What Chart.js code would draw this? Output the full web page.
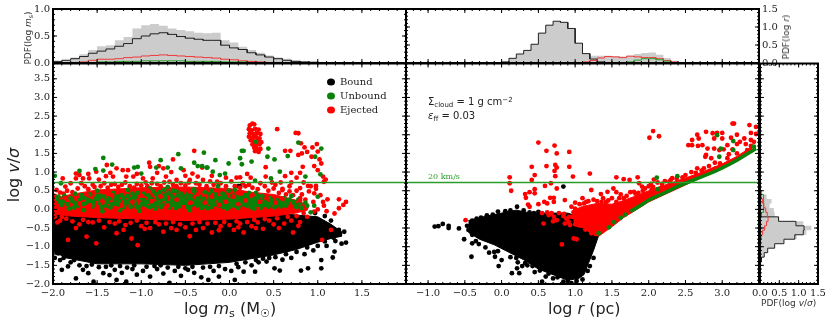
<!DOCTYPE html>
<html>
<head>
<meta charset="utf-8">
<script src="https://cdn.jsdelivr.net/npm/chart.js@4/dist/chart.umd.min.js"></script>
<style>
  html, body { margin: 0; padding: 0; background: #fff; }
  #page { position: relative; width: 830px; height: 323px; overflow: hidden; }
  canvas { position: absolute; }
  .txt { position: absolute; white-space: nowrap; color: #222; font-family: "DejaVu Sans", sans-serif; }
  .big { font-size: 16px; }
  .small { font-size: 9px; color: #333; }
  .rot { transform: translate(-50%, -50%) rotate(-90deg); }
  sub { font-size: 70%; vertical-align: baseline; position: relative; top: .25em; }
  sup { font-size: 70%; vertical-align: baseline; position: relative; top: -.45em; }
</style>
</head>
<body>
<div id="page">
  <canvas id="histMass" width="412" height="72" style="left:0;top:0"></canvas>
  <canvas id="histRadius" width="392" height="72" style="left:400px;top:0"></canvas>
  <canvas id="mainMass" width="412" height="250" style="left:0;top:50px"></canvas>
  <canvas id="mainRadius" width="365" height="250" style="left:400px;top:50px"></canvas>
  <canvas id="histVel" width="81" height="250" style="left:749px;top:50px"></canvas>

  <div class="txt big rot" style="left:13px;top:175px">log <i>v</i>/<i>σ</i></div>
  <div class="txt big" style="left:184px;top:299px">log <i>m</i><sub>s</sub> (M<sub>☉</sub>)</div>
  <div class="txt big" style="left:548px;top:299px">log <i>r</i> (pc)</div>
  <div class="txt small rot" style="left:28px;top:38px">PDF(log <i>m</i><sub>s</sub>)</div>
  <div class="txt small rot" style="left:786px;top:37px">PDF(log <i>r</i>)</div>
  <div class="txt small" style="left:761px;top:298px">PDF(log <i>v</i>/<i>σ</i>)</div>
  <div class="txt" style="left:428px;top:96px;font-size:10px">Σ<sub>cloud</sub> = 1 g cm<sup>−2</sup></div>
  <div class="txt" style="left:428px;top:110px;font-size:10px"><i>ε</i><sub>ff</sub> = 0.03</div>
  <div class="txt" style="left:428px;top:172px;font-size:8px;color:#2a9d2a;font-family:'DejaVu Serif',serif">20 km/s</div>
</div>

<script>
// ─── Histogrammes du haut (bins de 0.1) ─────
const massEdges = [-2.0,-1.9,-1.8,-1.7,-1.6,-1.5,-1.4,-1.3,-1.2,-1.1,-1.0,-0.9,-0.8,-0.7,-0.6,-0.5,-0.4,-0.3,-0.2,-0.1,0.0,0.1,0.2,0.3,0.4,0.5,0.6,0.7,0.8,0.9,1.0,1.1,1.2,1.3];
const massAll     = [.03,.06,.10,.16,.24,.31,.33,.42,.48,.64,.70,.72,.69,.64,.61,.59,.56,.55,.56,.42,.38,.30,.24,.19,.14,.10,.08,.05,.03,.02,.01,.01,.005,0];
const massBound   = [.03,.05,.08,.12,.18,.22,.26,.31,.36,.45,.50,.54,.56,.53,.49,.46,.44,.42,.42,.33,.28,.25,.19,.15,.11,.08,.05,.03,.02,.015,.01,.01,.005,0];
const massEjected = [0,0,.01,.02,.05,.07,.07,.08,.10,.11,.13,.14,.15,.14,.13,.12,.11,.10,.09,.07,.06,.04,.03,.02,.01,.01,.01,.01,.005,0,0,0,0,0];
const massUnbound = [0,.005,.005,.01,.01,.02,.02,.03,.03,.03,.04,.04,.04,.04,.04,.03,.03,.03,.03,.02,.02,.02,.01,.01,.005,.005,0,0,0,0,0,0,0,0];

const radiusEdges = [-0.2,-0.1,0.0,0.1,0.2,0.3,0.4,0.5,0.6,0.7,0.8,0.9,1.0,1.1,1.2,1.3,1.4,1.5,1.6,1.7,1.8,1.9,2.0,2.1,2.2,2.3,2.4];
const radiusAll     = [.005,.01,.03,.13,.25,.35,.52,.83,1.05,1.16,1.13,.96,.55,.27,.20,.20,.20,.19,.18,.20,.25,.28,.29,.23,.14,.06,.02];
const radiusBound   = [.005,.01,.03,.13,.25,.35,.52,.83,1.05,1.16,1.13,.96,.55,.26,.11,.03,.01,0,0,0,0,0,0,0,0,0,0];
const radiusEjected = [0,0,0,0,0,0,0,0,0,0,0,0,.01,.03,.07,.14,.18,.17,.15,.19,.17,.15,.15,.12,.07,.03,.01];
const radiusUnbound = [0,0,0,0,0,0,0,0,0,0,0,0,0,0,0,0,0,0,.01,.03,.08,.12,.12,.09,.05,.01,0];

// ─── Histogramme de droite (bins de 0.12) ───
const velEdges = [-1.52,-1.40,-1.28,-1.16,-1.04,-0.92,-0.80,-0.68,-0.56,-0.44,-0.32,-0.20,-0.08,0.04,0.16,0.28,0.40];
const velAll     = [.02,.05,.12,.20,.38,.62,.95,1.20,1.33,1.12,.50,.38,.36,.25,.30,.17,.06];
const velBound   = [.01,.04,.11,.20,.38,.62,.90,1.12,1.14,.93,.48,0,0,0,0,0,0];
const velEjected = [0,0,0,0,0,.01,.03,.07,.12,.17,.21,.19,.15,.10,.07,.03,0];
const velUnbound = [0,0,0,0,0,0,0,0,0,0,.01,.04,.08,.10,.10,.09,.03];

// ─── Panneau gauche : log m_s / log v/sigma ─
const speedLine = [0.72, 0.72];
const legendNames = ['Bound', 'Unbound', 'Ejected'];

const massBoundCloud = [[-2,-.15],[-1.5,-.1],[-1,-.1],[-.5,-.1],[0,-.1],[.5,-.1],[.75,-.15],[1,-.2],[1.15,-.4],[1.27,-.6],[1.27,-.72],[1.15,-.78],[1,-.88],[.75,-1.08],[.5,-1.22],[.25,-1.32],[0,-1.42],[-.5,-1.5],[-1,-1.46],[-1.5,-1.46],[-1.85,-1.3],[-2,-1.12]];
const massEjectedCloud = [[-2,.28],[-1.8,.4],[-1.5,.52],[-1,.58],[-.5,.6],[0,.56],[.25,.46],[.5,.4],[.75,.25],[.9,.1],[.88,-.02],[.75,-.1],[.5,-.18],[.25,-.22],[0,-.26],[-.5,-.3],[-1,-.26],[-1.5,-.22],[-1.8,-.18],[-2,-.12]];

const massBoundPts = [[-1.94,-1.18],[-1.92,-1.36],[-1.9,-1.62],[-1.83,-1.53],[-1.74,-1.85],[-1.66,-1.62],[-1.54,-1.94],[-1.6,-1.71],[-1.43,-1.71],[-1.36,-1.76],[-1.28,-1.89],[-1.17,-1.94],[-1.3,-1.62],[-1.22,-1.7],[-1.1,-1.6],[-1.05,-1.75],[-.98,-1.65],[-.9,-1.8],[-.82,-1.6],[-.75,-1.72],[-.68,-1.97],[-.62,-1.65],[-.55,-1.78],[-.47,-1.62],[-.4,-1.7],[-.32,-1.82],[-.24,-1.89],[-.18,-1.65],[-.12,-1.8],[-.05,-1.6],[.06,-1.89],[.02,-1.65],[.1,-1.55],[.16,-1.67],[.29,-1.67],[.25,-1.5],[.33,-1.42],[.42,-1.4],[.51,-1.58],[.57,-1.64],[.6,-1.35],[.7,-1.3],[.81,-1.64],[.89,-1.58],[.85,-1.2],[.95,-1.1],[1.04,-1.36],[1.04,-1.58],[1.17,-1.29],[1.19,-1.13],[1.1,-.98],[1.2,-.85],[1.32,-.89],[1.27,-.92],[1.3,-.6],[1.24,-.55],[1.15,-.3],[1.08,-.18],[.97,-.1],[.1,.62],[.12,.62],[-1.98,-1.3],[-1.7,-1.5],[-1.48,-1.55],[-.85,-1.52],[-.3,-1.56],[.45,-1.3],
[-1.96,-1.16],[-1.88,-1.3],[-1.8,-1.42],[-1.76,-1.36],[-1.62,-1.52],[-1.56,-1.48],[-1.4,-1.54],[-1.34,-1.5],[-1.24,-1.52],[-1.16,-1.56],[-1.08,-1.5],[-.94,-1.54],[-.78,-1.5],[-.7,-1.56],[-.58,-1.54],[-.5,-1.58],[-.42,-1.54],[-.22,-1.54],[-.12,-1.52],[.08,-1.46],[.18,-1.42],[.3,-1.36],[.38,-1.32],[.52,-1.28],[.64,-1.2],[.76,-1.14],[.88,-1.02],[1,-.98],[1.08,-.86],[1.18,-.76]];

const massUnboundPts = [[-1.43,1.38],[-1.98,.9],[-1.7,1.03],[-1.52,1.08],[-1.33,1.2],[-1.43,1.04],[-1.08,1.12],[-1.04,1.14],[-.78,1.32],[-.58,1.48],[-.7,1.12],[-.4,1.25],[-.36,1.16],[-.26,1.12],[-.55,1.1],[-.83,1.12],[-1,.96],[-1.91,.7],[-1.94,.34],[-.29,1.52],[-.16,1.32],[-.01,1.23],[.12,1.37],[.25,1.28],[.14,1.21],[.14,1.57],[.16,1.57],[.3,1.81],[.44,1.63],[.43,1.41],[.51,1.34],[.66,1.43],[.78,1.79],[.97,1.41],[1.04,1.63],[.57,1.01],[.47,.83],[1.03,.94],[.86,.88],[-.19,1.01],[-.25,1.12],[-.31,1.16],[-.05,.96],[-.11,.92],[.29,.77],
[-1.95,.28],[-1.9,.12],[-1.87,.36],[-1.82,.02],[-1.78,.22],[-1.75,.42],[-1.72,.1],[-1.68,.3],[-1.65,-.02],[-1.62,.18],[-1.58,.4],[-1.55,.08],[-1.52,.28],[-1.5,.5],[-1.47,.14],[-1.44,-.05],[-1.42,.34],[-1.38,.2],[-1.35,.05],[-1.32,.44],[-1.3,.26],[-1.27,.12],[-1.24,-.02],[-1.22,.38],[-1.18,.2],[-1.15,.52],[-1.12,.07],[-1.1,.3],[-1.07,.16],[-1.04,.44],[-1.02,-.04],[-.98,.26],[-.95,.1],[-.92,.38],[-.9,.56],[-.87,.18],[-.84,.02],[-.82,.3],[-.79,.46],[-.76,.12],[-.73,.28],[-.7,.6],[-.68,.05],[-.65,.36],[-.62,.2],[-.6,.48],[-.57,.08],[-.54,.3],[-.5,.14],[-.48,.42],[-.45,-.02],[-.42,.24],[-.4,.54],[-.37,.1],[-.34,.34],[-.31,.18],[-.28,.46],[-.25,.03],[-.22,.28],[-.2,.14],[-.16,.4],[-.13,.62],[-.1,.2],[-.07,.06],[-.04,.32],[-.01,.5],[.02,.14],[.05,.26],[.08,.4],[.1,.04],[.13,.2],[.16,.32],[.19,.1],[.22,.44],[.25,.18],[.28,.02],[.31,.28],[.34,.12],[.37,.36],[.4,.2],[.43,.06],[.46,.3],[.5,.16],[.54,.24],[.58,.08],[.62,.3],[.66,.18],[.7,.36],[.74,.12],[.78,.26],[.82,.04],[.86,.18],[.92,-.08],[.96,.1],[1.0,.34],[-1.76,.05],[-1.6,.25],[-1.4,.1],[-1.2,.3],[-1,.15],[-.8,.22],[-.6,.1],[-.44,.36],[-.3,.08],[-.18,.24],[-.02,.12],[.12,.3],[.27,.22],[.44,.14],[-.9,.06],[-.66,.24],[.2,.26],[-.55,.42],[-1.28,.34],[-.06,.4],
[-1.92,.2],[-1.84,.14],[-1.8,.3],[-1.7,.24],[-1.66,.14],[-1.57,.22],[-1.48,.26],[-1.45,.06],[-1.36,.3],[-1.33,.14],[-1.25,.22],[-1.2,.06],[-1.16,.36],[-1.13,.18],[-1.08,.24],[-1.05,.06],[-1,.3],[-.97,.42],[-.93,.2],[-.89,.28],[-.85,.12],[-.83,.4],[-.78,.06],[-.75,.36],[-.71,.18],[-.69,.44],[-.63,.3],[-.61,.04],[-.58,.2],[-.55,.14],[-.52,.24],[-.47,.06],[-.46,.3],[-.41,.14],[-.38,.44],[-.35,.22],[-.32,.04],[-.29,.28],[-.26,.16],[-.23,.4],[-.21,.06],[-.17,.14],[-.14,.3],[-.11,.1],[-.08,.42],[-.05,.2],[-.03,.02],[0,.24],[.03,.36],[.06,.1],[.09,.2],[.12,.12],[.15,.22],[.18,.38],[.21,.16],[.24,.06],[.27,.32],[.3,.12],[.33,.24],[.36,.04],[.39,.3],[.42,.14],[.47,.18],[.51,.06],[.55,.14],[.6,.2],[.64,.1],[.68,.26],[.72,.2],[.76,.06],[.8,.16],[.88,.1],[-1.1,.42],[-.86,.48],[-.64,.5],[-.42,.5],[-.2,.5],[.06,.52],[.3,.44],[-1.5,.36],[-1.68,.38],[-.74,.52],
[-1.88,.22],[-1.74,.16],[-1.64,.32],[-1.54,.18],[-1.46,.36],[-1.4,.24],[-1.3,.16],[-1.26,.34],[-1.19,.12],[-1.14,.26],[-1.06,.34],[-1.01,.08],[-.96,.18],[-.91,.3],[-.88,.1],[-.81,.16],[-.77,.26],[-.72,.38],[-.67,.14],[-.63,.12],[-.59,.36],[-.56,.26],[-.51,.34],[-.49,.22],[-.43,.08],[-.39,.2],[-.36,.3],[-.33,.12],[-.27,.08],[-.24,.22],[-.19,.32],[-.15,.06],[-.12,.2],[-.09,.3],[-.06,.14],[-.03,.26],[.01,.08],[.04,.18],[.07,.32],[.11,.24],[.14,.08],[.17,.16],[.2,.34],[.23,.24],[.26,.12],[.29,.2],[.32,.36],[.35,.18],[.38,.1],[.41,.26],[.45,.1],[.48,.24],[.53,.12],[.57,.2],[.61,.12],[.65,.24]];

const massEjectedPts = [[-.4,1.57],[-.64,1.34],[-.91,1.25],[-.8,1.16],[-1.39,1.19],[-1.28,1.1],[-1.74,.96],[-1.89,.83],[-1.7,.92],[-1.59,.83],[-1.51,1.01],[-1.21,1.05],[-1.15,1.05],[-.9,1.14],[-.52,1.05],[-.31,1.12],[-.75,1.1],[-1.17,.88],[-1.09,.88],[-.98,.83],[-.87,.83],[-.72,.88],[-.42,.96],[-.45,.79],[-.6,.79],[-.3,.79],[-1.32,.88],[-1.4,.89],[-1.48,.8],[-1.66,.83],[-1.74,.83],[-1.8,.7],[-1.86,.61],[-1.96,.52],[-1.92,.45],[-1.68,.7],[-1.55,.66],[-1.42,.7],[-1.3,.68],[-1.18,.72],[-1.05,.68],[-.95,.72],[-.82,.68],[-.68,.74],[-.55,.7],[-.38,.7],[-.22,.75],[-.1,.7],[.02,.75],[.08,.85],[.15,.7],[.22,.66],[.35,.7],[.4,.62],[.52,.66],[.6,.55],[.68,.62],[.76,.5],[.82,.4],[.92,.62],[.98,.55],
[.23,2.25],[.26,2.3],[.28,2.28],[.22,2.15],[.25,2.12],[.29,2.16],[.33,2.14],[.23,2.04],[.27,2.02],[.31,2.05],[.35,2.02],[.22,1.95],[.26,1.92],[.3,1.94],[.34,1.9],[.24,1.85],[.28,1.82],[.32,1.84],[.36,1.8],[.26,1.74],[.3,1.72],[.34,1.74],[.28,1.65],[.31,1.62],[.35,1.62],[.29,1.56],[.33,1.54],
[.54,2.15],[.75,2.05],[.78,2.04],[.99,1.75],[.94,1.66],[.81,1.77],[.85,1.66],[.88,1.54],[.69,1.57],[.63,1.57],[.78,1.46],[.82,1.5],[1.0,1.55],[.93,1.41],[1.02,1.34],[1.04,1.23],[.96,1.16],[1.0,1.05],[.83,1.14],[.8,.98],[.41,1.13],[.7,.98],[.63,.89],[.41,.88],[1.06,.88],[1.09,.8],[1.07,.74],[.98,.63],[.89,.63],[.8,.57],[.6,.52],[.68,.48],[.96,.43],[1.11,.27],[1.24,.27],[1.32,.2],[1.29,.12],[1.24,.03],[1.19,-.11],[1.06,.2],[1.03,.38],[1.07,.1],[1,.0],[1.1,-.05],[.95,.2],
[-1.83,-.82],[-1.51,-.91],[-1.62,-.73],[-1.28,-.64],[-1.11,-.78],[-1.04,-.96],[-.9,-.5],[-.75,-.6],[-.6,-.55],[-.45,-.72],[-.3,-.5],[-.2,-.62],[-.1,-.45],[.05,-.55],[.16,-.62],[.25,-.45],[.38,-.52],[.5,-.4],[.62,-.38],[.7,-.3],[.8,-.34],[.88,-.2],[1.05,-.82],[-1.7,-.4],[-1.42,-.48],[-1.18,-.42],[-1,-.45],[-.8,-.4],[-.5,-.48],[-.25,-.38],[0,-.42],[.12,-.38],[.32,-.35],[.45,-.3],[-1.95,-.35],[-1.9,-.2],[-1.55,-.35],[-1.3,-.38],[.72,-.62],[1.15,-.55],
[-1.98,.36],[-1.93,.3],[-1.88,.42],[-1.84,.5],[-1.78,.46],[-1.72,.56],[-1.64,.62],[-1.6,.54],[-1.53,.6],[-1.46,.62],[-1.38,.58],[-1.34,.66],[-1.26,.6],[-1.22,.66],[-1.13,.62],[-1.08,.58],[-1,.64],[-.93,.62],[-.88,.7],[-.78,.62],[-.74,.72],[-.64,.66],[-.6,.62],[-.5,.64],[-.46,.72],[-.34,.66],[-.26,.62],[-.18,.66],[-.14,.74],[-.04,.62],[.06,.62],[.12,.58],[.18,.62],[.26,.58],[.32,.54],[.44,.5],[.5,.56],[.56,.44],[.64,.4],[.72,.38],[.8,.3],[.86,.26],[-1.6,.95],[-1.35,.98],[-1.05,.95],[-.82,.98],[-.66,1.0],[-.5,.9],[-.36,.88],[-.2,.9],[-.04,.85],[.12,.86],[.24,.85],[.2,.95],[.48,.72],[.58,.72],[.7,.72],[.84,.72],[.9,.48],[.76,.85],
[-1.98,-.2],[-1.92,-.3],[-1.85,-.25],[-1.78,-.32],[-1.66,-.28],[-1.6,-.34],[-1.48,-.3],[-1.36,-.34],[-1.25,-.32],[-1.12,-.36],[-1.05,-.3],[-.94,-.36],[-.84,-.34],[-.72,-.38],[-.64,-.34],[-.56,-.4],[-.42,-.38],[-.34,-.34],[-.16,-.36],[-.06,-.34],[.08,-.32],[.2,-.34],[.28,-.28],[.4,-.26],[.54,-.24],[.66,-.2],[.76,-.18],[.84,-.1],[.96,-.06],[-1.74,-.5],[-1.2,-.55],[-.96,-.52],[-.66,-.5],[-.38,-.55],[-.12,-.56],[.1,-.48],[.3,-.5],[.56,-.5],[.78,-.44]];

// points rouges posés par-dessus le vert
const massEjectedTop = [[-1.86,.3],[-1.7,.16],[-1.58,.1],[-1.44,.22],[-1.34,.38],[-1.22,.1],[-1.1,.2],[-1,.36],[-.88,.22],[-.78,.34],[-.7,.1],[-.6,.26],[-.52,.06],[-.44,.18],[-.36,.4],[-.28,.18],[-.2,.34],[-.12,.12],[-.04,.2],[.04,.34],[.1,.14],[.18,.24],[.26,.38],[.34,.2],[.42,.3],[.52,.18],[.6,.28],[.7,.06],[.8,.24],[-1.5,.06],[-1.28,.02],[-.98,.02],[-.72,.02],[-.4,.02],[-.16,.02],[.15,.02],[.4,.0],[-1.62,.4],[-.92,.5],[-.46,.48],[.1,.44]];

// ─── Panneau central : log r / log v/sigma ──
const radiusBoundCloud = [[-.45,-.3],[-.25,-.2],[0,-.1],[.2,-.02],[.4,-.1],[.6,-.1],[.9,-.1],[1.05,-.2],[1.32,-.7],[1.25,-1.1],[1.18,-1.45],[1.12,-1.75],[1.05,-1.85],[.9,-1.9],[.7,-1.75],[.5,-1.6],[.3,-1.35],[.1,-1.15],[-.1,-.95],[-.3,-.8],[-.45,-.62]];
const radiusEjectedCloud = [[.95,-.05],[1.1,.08],[1.3,.16],[1.5,.14],[1.6,.2],[1.8,.34],[2,.5],[2.2,.64],[2.44,.8],[2.7,.98],[3,1.22],[3.2,1.42],[3.4,1.68],[3.4,1.54],[3.2,1.3],[3,1.09],[2.7,.84],[2.44,.6],[2,.2],[1.66,-.22],[1.53,-.42],[1.32,-.72],[1.2,-.62],[1.12,-.5],[1.02,-.46],[.98,-.3]];
const radiusRidge = [[1.75,-.06],[1.8,0],[1.9,.12],[2,.25],[2.1,.34],[2.2,.43],[2.3,.52],[2.4,.62],[2.5,.7],[2.6,.78],[2.7,.86],[2.8,.94],[2.9,1.02],[3,1.11],[3.1,1.21],[3.2,1.32],[3.3,1.44],[3.4,1.56],[3.46,1.63]];

const radiusBoundPts = [[-.91,-.46],[-.86,-.45],[-.8,-.39],[-.72,-.44],[-.72,-.5],[-.58,-.51],[-.51,-.8],[-.41,-1.27],[-.4,-.91],[-.31,-.93],[-.17,-1.16],[-.1,-1.14],[-.09,-1.27],[-.04,-1.52],[0,-1.36],[.14,-1.71],[.21,-1.58],[.28,-1.52],[.24,-1.71],[.55,-1.94],[.7,-1.85],[.84,-1.94],[.21,.07],[.84,.61],[-.47,-.44],[-.45,-.55],[-.4,-.68],[-.35,-.85],[-.22,-1.02],[-.05,-1.12],[.12,-1.28],[.22,-1.42],[.35,-1.5],[.45,-1.68],[.6,-1.8],[.95,-1.98],[1.1,-1.88],[1.17,-1.65],[1.2,-1.52],[1.25,-1.3],[-.2,-.16],[-.05,-.06],[.12,-.03],[.3,-.03],[.5,-.07],[-.4,-.3],[-.34,-.25],[-.28,-.22],[-.12,-.14],[.05,-.05],[.38,-.08],[.44,-.1],[.2,-1.3],[.32,-1.44],[.42,-1.52],[.52,-1.64],[.64,-1.72],[.76,-1.82],[.9,-1.92],[1.02,-1.92]];
const radiusUnboundPts = [[2.11,.85],[2.39,.89],[2.12,.54],[2.93,1.99],[3.15,1.83],[2.98,1.63],[2.96,1.41],[3.15,1.59],[1.32,-.64],[1.46,-.48],[3.43,1.68],[1.53,-.34],[1.62,-.22],[1.68,-.14]];
const radiusEjectedPts = [[.5,1.79],[.72,1.71],[.61,1.57],[.75,1.5],[.92,1.54],[.41,1.14],[.61,1.16],[.73,1.19],[.75,1.12],[.72,1.03],[.92,1.14],[.11,.86],[.45,.92],[.73,.89],[.97,.88],[.41,.79],[.11,.7],[.13,.5],[.45,.54],[.59,.63],[.67,.7],[.75,.56],[.38,.46],[.32,.41],[.45,.43],[.33,.31],[.36,.13],[.38,.07],[.5,.14],[.58,.2],[.66,.31],[.71,.31],[.62,.16],[.71,.2],[.86,.25],[.95,.07],[-.49,-.29],
[.57,-.38],[.64,-.15],[.71,-.2],[.75,-.29],[.86,-.38],[.91,-.33],[.93,-.42],[.82,-.94],[.98,-.78],[1.02,-.8],[.55,-.1],[.62,-.08],[.68,-.1],[.78,-.1],[.85,-.12],[.92,-.2],[.7,-.32],
[2.06,2.1],[2.01,1.92],[2.14,1.96],[1.2,.96],[1.22,.52],[1.56,.86],[1.66,.81],[1.74,.79],[1.85,.86],[2.07,.8],[1.87,.7],[1.52,.56],[1.44,.47],[1.35,.41],[1.56,.46],[1.8,.47],[1.91,.61],[2.03,.68],[2.04,.52],[2.16,.56],[2.3,.79],[2.66,1.1],[2.82,1.16],[2.91,1.1],[2.77,1.41],[2.85,1.37],[3.07,1.37],[3.2,1.5],[3.34,1.59],[2.97,1.23],
[2.54,1.72],[2.59,1.72],[2.59,1.86],[2.66,2.0],[2.68,1.9],[2.67,1.7],[2.78,2.08],[2.87,2.04],[2.93,2.05],[3,2.05],[2.89,1.9],[3,1.9],[3.12,1.92],[3.2,2],[3.14,2.3],[3.16,2.3],[3.37,2.26],[3.46,2.21],[3.39,2.05],[3.46,2.02],[3.39,1.86],[3.3,1.9],[3.24,1.81],[3.32,1.75],[3.39,1.7],[3.43,1.81],[3.2,1.75],[3.14,1.61],[3.07,1.72],[3.02,1.61],[3.09,1.48],[2.96,1.59],[2.89,1.63],[2.8,1.63],[2.73,1.72],[2.78,1.46],
[1.1,.3],[1.0,.18],[1.15,.2],[1.25,.26],[1.3,.22],[1.38,.3],[1.45,.24],[1.5,.3],[1.6,.3],[1.62,.4],[1.7,.36],[1.75,.46],[1.82,.42],[1.95,.56],[2.0,.62],[2.12,.72],[2.22,.76],[2.32,.84],[2.5,.92],[2.58,1],[2.75,1.1],[2.9,1.25],
[.98,-.08],[.96,-.2],[1,-.4],[1.06,-.42],[1.14,-.54],[1.22,-.64],[1.28,-.66],[.88,-.25],[.84,-.18],[1.0,.02],[1.06,.14],[1.12,.16],[1.18,.22],[1.36,.2],[1.42,.2],[1.56,.2],[1.66,.3],[1.86,.44],[1.92,.5],[2.06,.6],[2.18,.68],[2.28,.74],[2.38,.82],[2.46,.86],[2.64,.98],[2.72,1.04]];

// ─── Graduations du cadre, vers l'intérieur ─
const framePlugin = {
  id: 'frame',
  afterDatasetsDraw(chart) {
    const { ctx, chartArea: a, scales } = chart;
    const marks = (scale, step, len) => {
      const n0 = Math.ceil(scale.min / step - 1e-6);
      const n1 = Math.floor(scale.max / step + 1e-6);
      for (let n = n0; n <= n1; n++) {
        const p = scale.getPixelForValue(n * step);
        ctx.beginPath();
        if (scale.axis === 'x') {
          ctx.moveTo(p, a.bottom); ctx.lineTo(p, a.bottom - len);
          ctx.moveTo(p, a.top); ctx.lineTo(p, a.top + len);
        } else {
          ctx.moveTo(a.left, p); ctx.lineTo(a.left + len, p);
          ctx.moveTo(a.right, p); ctx.lineTo(a.right - len, p);
        }
        ctx.stroke();
      }
    };
    ctx.save();
    ctx.strokeStyle = '#000';
    ctx.lineWidth = 1;
    marks(scales.x, .5, 4);
    marks(scales.x, .1, 2);
    marks(scales.y, .5, 4);
    marks(scales.y, .1, 2);
    ctx.lineWidth = 2;
    ctx.strokeRect(a.left, a.top, a.right - a.left, a.bottom - a.top);
    ctx.restore();
  }
};

// Légende placée dans le panneau
const legendSpot = {
  id: 'legendSpot',
  afterLayout(chart) {
    const spot = chart.options.plugins.legendSpot;
    const l = chart.legend;
    if (!l || !spot || !spot.left) return;
    l.left = spot.left;
    l.right = l.left + l.width;
    l.top = spot.top;
    l.bottom = l.top + l.height;
  }
};
Chart.register(framePlugin, legendSpot);

// ─── Helpers ────────────────────────────────
const tickFont = { family: "'DejaVu Serif', serif", size: 10 };
const fmt = hide => v => hide.includes(v) ? '' : v.toFixed(1).replace('-', '−');

function toPoints(list) { return list.map(p => ({ x: p[0], y: p[1] })); }

// bins -> contour en marches
function stepShape(edges, vals, horizontal) {
  const w = edges[1] - edges[0];
  const pts = [];
  const add = (e, v) => pts.push(horizontal ? { x: v, y: e } : { x: e, y: v });
  add(edges[0], 0);
  edges.forEach((e, i) => { add(e, vals[i]); add(e + w, vals[i]); });
  add(edges[edges.length - 1] + w, 0);
  return pts;
}

function dots(label, list, color, order) {
  return { label, data: toPoints(list), backgroundColor: color, borderWidth: 0, pointRadius: 2.4, pointHoverRadius: 2.4, order };
}
function cloud(list, color, order) {
  return { data: toPoints(list), showLine: true, fill: 'shape', backgroundColor: color, borderColor: color, borderWidth: 1, pointRadius: 0, order };
}
function step(edges, vals, color, horizontal, filled, order) {
  return { data: stepShape(edges, vals, horizontal), showLine: true, fill: filled ? 'shape' : false, backgroundColor: color, borderColor: color, borderWidth: filled ? 0 : 1, pointRadius: 0, tension: 0, order };
}
function axis(min, max, hide, side, size, extra) {
  return Object.assign({
    type: 'linear', min, max, position: side,
    grid: { display: false, drawTicks: false }, border: { display: false },
    ticks: { stepSize: 0.5, includeBounds: false, autoSkip: false, maxRotation: 0, font: tickFont, color: '#222', padding: 3, callback: fmt(hide) },
    afterFit: s => { if (s.isHorizontal()) s.height = size; else s.width = size; }
  }, extra || {});
}
function makeChart(id, datasets, scales, padding, extra) {
  return new Chart(document.getElementById(id), {
    type: 'scatter',
    data: { datasets },
    options: {
      responsive: false, animation: false, events: [],
      layout: { padding },
      scales,
      plugins: Object.assign({ legend: { display: false }, tooltip: { enabled: false } }, extra || {})
    }
  });
}

// ─── Histogrammes ───────────────────────────
const GREY = '#cccccc', RED = '#f03a3a', GREEN = '#2a9d2a';

makeChart('histMass', [
  step(massEdges, massAll, GREY, false, true, 4),
  step(massEdges, massBound, '#222', false, false, 3),
  step(massEdges, massEjected, RED, false, false, 2),
  step(massEdges, massUnbound, GREEN, false, false, 1)
], {
  x: axis(-2, 2, [], 'bottom', 0, { display: false }),
  y: axis(0, 1, [], 'left', 53)
}, { top: 8, right: 6, bottom: 8.5, left: 0 });

makeChart('histRadius', [
  step(radiusEdges, radiusAll, GREY, false, true, 4),
  step(radiusEdges, radiusBound, '#222', false, false, 3),
  step(radiusEdges, radiusEjected, RED, false, false, 2),
  step(radiusEdges, radiusUnbound, GREEN, false, false, 1)
], {
  x: axis(-1.3, 3.5, [], 'bottom', 0, { display: false }),
  y: axis(0, 1.5, [], 'right', 33)
}, { top: 8, right: 0, bottom: 8.5, left: 6 });

makeChart('histVel', [
  step(velEdges, velAll, GREY, true, true, 4),
  step(velEdges, velBound, '#222', true, false, 3),
  step(velEdges, velEjected, RED, true, false, 2),
  step(velEdges, velUnbound, GREEN, true, false, 1)
], {
  x: axis(0, 1.5, [], 'bottom', 16),
  y: axis(-2, 3.91, [], 'left', 0, { display: false })
}, { top: 13.5, right: 12, bottom: 0, left: 10 });

// ─── Nuages de points ───────────────────────
const lineMass = { data: [{ x: -2, y: speedLine[0] }, { x: 2, y: speedLine[1] }], showLine: true, borderColor: GREEN, backgroundColor: GREEN, borderWidth: 1.3, pointRadius: 0, order: 1 };
const lineRadius = { data: [{ x: -1.3, y: speedLine[0] }, { x: 3.5, y: speedLine[1] }], showLine: true, borderColor: GREEN, backgroundColor: GREEN, borderWidth: 1.3, pointRadius: 0, order: 1 };

makeChart('mainMass', [
  dots(legendNames[0], massBoundPts, '#000', 8),
  cloud(massBoundCloud, '#000', 9),
  dots(legendNames[1], massUnboundPts, '#0a820a', 3),
  dots(legendNames[2], massEjectedPts, '#ff0000', 6),
  cloud(massEjectedCloud, '#ff0000', 7),
  dots('', massEjectedTop, '#ff0000', 2),
  lineMass
], {
  x: axis(-2, 2, [2], 'bottom', 16),
  y: axis(-2, 3.91, [], 'left', 53)
}, { top: 13.5, right: 6, bottom: 0, left: 0 }, {
  legend: {
    display: true, position: 'chartArea', align: 'start',
    labels: {
      usePointStyle: true, boxHeight: 5, pointStyleWidth: 8, padding: 4, color: '#222',
      font: { family: "'DejaVu Serif', serif", size: 10 },
      filter: item => !!item.text,
      sort: (a, b) => legendNames.indexOf(a.text) - legendNames.indexOf(b.text)
    }
  },
  legendSpot: { left: 323, top: 23 }
});

makeChart('mainRadius', [
  dots('Bound', radiusBoundPts, '#000', 8),
  cloud(radiusBoundCloud, '#000', 9),
  cloud(radiusEjectedCloud, '#ff0000', 7),
  dots('Ejected', radiusEjectedPts, '#ff0000', 6),
  { data: toPoints(radiusRidge), showLine: true, borderColor: '#0a820a', backgroundColor: '#0a820a', borderWidth: 3.6, pointRadius: 0, order: 5 },
  dots('Unbound', radiusUnboundPts, '#0a820a', 3),
  lineRadius
], {
  x: axis(-1.3, 3.5, [3.5], 'bottom', 16),
  y: axis(-2, 3.91, [], 'left', 0, { display: false })
}, { top: 13.5, right: 6, bottom: 0, left: 6 });
</script>
</body>
</html>
